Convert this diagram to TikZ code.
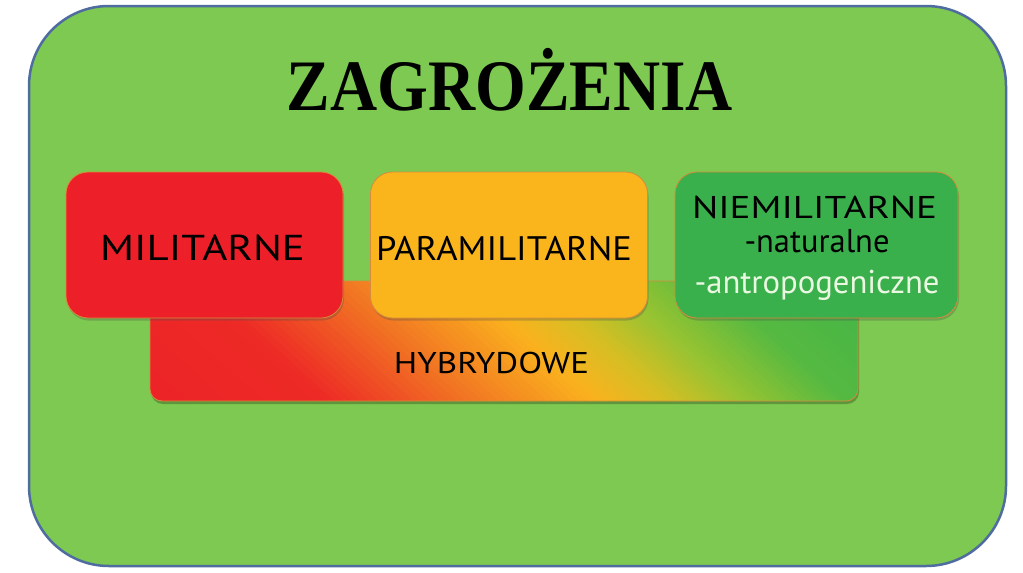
\documentclass[tikz,border=0pt]{standalone}
\usepackage{fontspec}
\setmainfont{Liberation Serif}
\newfontfamily\boxfont{PT Sans}
\usepackage{graphicx}
\usetikzlibrary{shadows}

\definecolor{bgGreen}{RGB}{125,201,81}
\definecolor{frameBlue}{RGB}{79,108,160}
\definecolor{milRed}{RGB}{237,32,42}
\definecolor{paraOrange}{RGB}{251,181,28}
\definecolor{nieGreen}{RGB}{58,176,76}
\definecolor{edgeOrange}{RGB}{214,140,60}
\definecolor{antroWhite}{RGB}{235,248,225}
% gradient stops
\definecolor{gA}{RGB}{236,34,39}
\definecolor{gB}{RGB}{237,42,38}
\definecolor{gC}{RGB}{241,115,35}
\definecolor{gD}{RGB}{250,178,30}
\definecolor{gE}{RGB}{215,190,35}
\definecolor{gF}{RGB}{150,195,50}
\definecolor{gG}{RGB}{85,185,65}
\definecolor{gH}{RGB}{65,180,72}

\newcommand\gradseg[4]{%
  \foreach \k in {0,...,15}{%
    \pgfmathsetmacro\xa{#1+(#2-#1)*\k/16}%
    \pgfmathsetmacro\xb{#1+(#2-#1)*(\k+1)/16+0.8}%
    \pgfmathsetmacro\pp{100-100*(\k+0.5)/16}%
    \fill[color=#3!\pp!#4] (\xa-78,270) -- (\xb-78,270) -- (\xb+78,412) -- (\xa+78,412) -- cycle;
  }}

\tikzset{
  framebox/.style={draw=frameBlue, line width=2.5pt, fill=bgGreen, rounded corners=80pt,
    minimum width=977pt, minimum height=560pt, inner sep=0pt, outer sep=0pt},
  catbox/.style={draw=edgeOrange, line width=0.8pt, rounded corners=22pt,
    minimum width=277pt, minimum height=146pt, inner sep=0pt, outer sep=0pt,
    drop shadow={shadow xshift=1pt, shadow yshift=-2.5pt, opacity=0.3, fill=black!70}},
  hybbox/.style={draw=edgeOrange, line width=0.8pt, rounded corners=12pt,
    minimum width=708pt, minimum height=120pt, inner sep=0pt, outer sep=0pt},
  titletext/.style={anchor=base, inner sep=0pt, font=\fontsize{72.5}{80}\selectfont\bfseries},
  cattext/.style={anchor=base, inner sep=0pt},
}

\begin{document}
\begin{tikzpicture}[x=1pt, y=-1pt]
\fill[white] (0,0) rectangle (1023,573);
\useasboundingbox (0,0) rectangle (1023,573);

\node[framebox] (frame) at (517.5,286) {};

\node[titletext] (title) at (510,110) {\resizebox{446pt}{\height}{ZAGROŻENIA}};

% hybrid box with slanted gradient
\fill[black, opacity=0.25, rounded corners=12pt] (151,284) rectangle (859,404);
\begin{scope}
  \clip[rounded corners=12pt] (150,281) rectangle (858,401);
  \gradseg{60}{260}{gA}{gB}
  \gradseg{260}{400}{gB}{gC}
  \gradseg{400}{530}{gC}{gD}
  \gradseg{530}{600}{gD}{gE}
  \gradseg{600}{680}{gE}{gF}
  \gradseg{680}{780}{gF}{gG}
  \gradseg{780}{950}{gG}{gH}
\end{scope}
\node[hybbox] (hyb) at (504,341) {};

\node[catbox, fill=milRed] (mil) at (204.5,245) {};
\node[catbox, fill=paraOrange] (para) at (509,245) {};
\node[catbox, fill=nieGreen, minimum width=283pt] (nie) at (816.5,245) {};

\node[cattext] (miltxt) at (202.5,260) {\boxfont\fontsize{36}{40}\selectfont\resizebox{205pt}{\height}{MILITARNE}};
\node[cattext] (paratxt) at (504,260) {\boxfont\fontsize{34}{40}\selectfont\resizebox{256pt}{\height}{PARAMILITARNE}};
\node[cattext] (nietxt) at (814.5,218) {\boxfont\fontsize{31.5}{36}\selectfont\resizebox{245pt}{\height}{NIEMILITARNE}};
\node[cattext] (nat) at (817,252) {\boxfont\fontsize{33}{36}\selectfont\resizebox{145pt}{\height}{-naturalne}};
\node[cattext, text=antroWhite] (antro) at (817,293) {\boxfont\fontsize{33}{36}\selectfont\resizebox{245pt}{\height}{-antropogeniczne}};
\node[cattext] (hybtxt) at (491.5,373) {\boxfont\fontsize{30}{34}\selectfont\resizebox{195pt}{\height}{HYBRYDOWE}};
\end{tikzpicture}
\end{document}
